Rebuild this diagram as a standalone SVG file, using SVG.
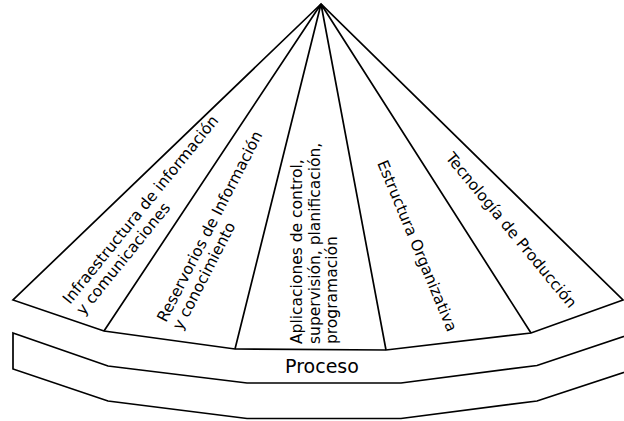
<svg xmlns="http://www.w3.org/2000/svg" width="624" height="421" viewBox="0 0 624 421">
<style>
.ln{fill:none;stroke:#000;stroke-width:1.7;stroke-linejoin:miter}
.sh{fill:#fff;stroke:#000;stroke-width:1.7;stroke-linejoin:miter}
.t{font-family:"DejaVu Sans",sans-serif;font-size:15.5px;fill:#000}
.p{font-family:"DejaVu Sans",sans-serif;font-size:19px;fill:#000}
</style>
<rect width="624" height="421" fill="#fff"/>
<g id="proceso">
<path class="sh" d="M13,333 L108,366 L247,383 L401,383 L537,365.5 L634,333 L634,369 L537,401 L401,418.5 L247,418.5 L108,401 L13,369 Z"/>
<text class="p" x="322" y="373" text-anchor="middle">Proceso</text>
</g>
<g id="fan">
<path class="sh" d="M321,4 L13,300 L104,331 L235,349 L386,350 L531,333 L623,300 Z"/>
</g>
<g id="connectors">
<path class="ln" d="M321,4 L104,331 M321,4 L235,349 M321,4 L386,350 M321,4 L531,333"/>
</g>
<g id="infraestructura">
<text class="t" transform="translate(70,305) rotate(-51)"><tspan x="0" y="0">Infraestructura de información</tspan><tspan x="0" y="17.5">y comunicaciones</tspan></text>
</g>
<g id="reservorios">
<text class="t" transform="translate(166,323) rotate(-62.8)"><tspan x="0" y="0">Reservorios de Información</tspan><tspan x="0" y="17.5">y conocimiento</tspan></text>
</g>
<g id="aplicaciones">
<text class="t" transform="translate(302,344) rotate(-90)"><tspan x="0" y="0">Aplicaciones de control,</tspan><tspan x="0" y="17.5">supervisión, planificación,</tspan><tspan x="0" y="35">programación</tspan></text>
</g>
<g id="estructura">
<text class="t" transform="translate(377,163) rotate(67.4)">Estructura Organizativa</text>
</g>
<g id="tecnologia">
<text class="t" transform="translate(445,158) rotate(50.5)">Tecnología de Producción</text>
</g>
</svg>
